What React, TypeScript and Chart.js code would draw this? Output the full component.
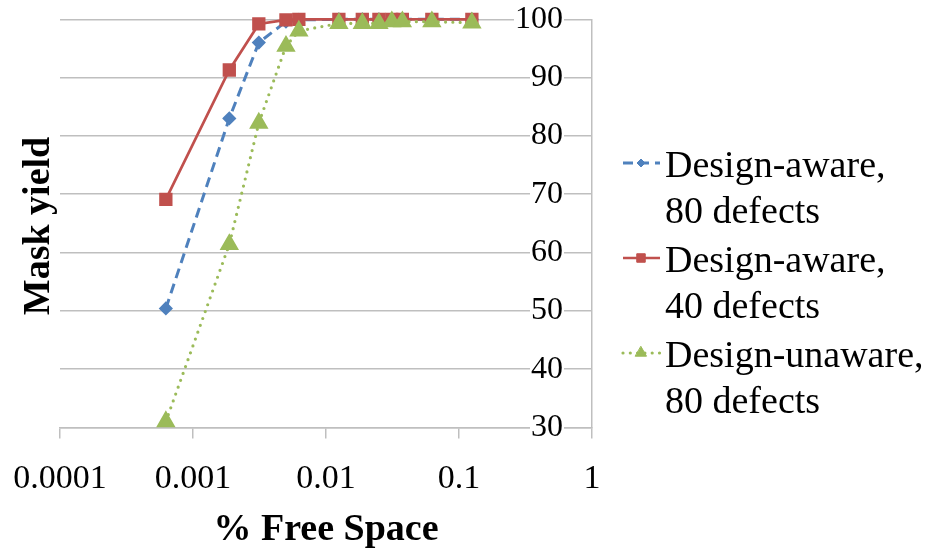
import React, { useEffect, useRef } from 'react';
import { Chart, registerables } from 'chart.js';
import { drawPoint } from 'chart.js/helpers';

Chart.register(...registerables);

// ---- data ----
const freeSpace = [0.000625, 0.001875, 0.003125, 0.005, 0.00625, 0.0125, 0.01875, 0.025, 0.03125, 0.0375, 0.0625, 0.125];
const awareDefects80 = [50.4, 83.0, 96.0, 99.6, 99.9, 100, 100, 100, 100, 100, 100, 100];
const awareDefects40 = [69.1, 91.3, 99.2, 99.9, 100, 100, 100, 100, 100, 100, 100, 100];
const unawareDefects80 = [31.0, 61.4, 82.2, 95.4, 98.0, 99.3, 99.3, 99.3, 99.6, 99.6, 99.6, 99.4];

const xTickValues = [0.0001, 0.001, 0.01, 0.1, 1];
const xTickLabels = ['0.0001', '0.001', '0.01', '0.1', '1'];
const seriesLabels = [
  ['Design-aware,', '80 defects'],
  ['Design-aware,', '40 defects'],
  ['Design-unaware,', '80 defects'],
];
const xTitle = '% Free Space';
const yTitle = 'Mask yield';

const SERIF = '"Liberation Serif", "Times New Roman", serif';
const GRID = '#bfbfbf';

const toPoints = (ys: number[]) => freeSpace.map((x, i) => ({ x, y: ys[i] }));

const overlayPlugin = {
  id: 'overlay',
  afterDraw(chart: any) {
    const ctx = chart.ctx as CanvasRenderingContext2D;
    // y title
    ctx.save();
    ctx.translate(49, 226);
    ctx.rotate(-Math.PI / 2);
    ctx.font = `bold 38px ${SERIF}`;
    ctx.fillStyle = '#000';
    ctx.textAlign = 'center';
    ctx.textBaseline = 'alphabetic';
    ctx.fillText(yTitle, 0, 0);
    ctx.restore();

    // legend
    chart.data.datasets.forEach((ds: any, i: number) => {
      const base = 177 + i * 95;
      const my = base - 14;
      ctx.save();
      ctx.strokeStyle = ds.borderColor;
      ctx.lineWidth = ds.borderWidth;
      ctx.lineCap = ds.borderCapStyle || 'butt';
      ctx.setLineDash(ds.borderDash || []);
      ctx.beginPath();
      ctx.moveTo(623, my);
      ctx.lineTo(660, my);
      ctx.stroke();
      ctx.setLineDash([]);
      ctx.fillStyle = ds.pointBackgroundColor;
      ctx.strokeStyle = ds.pointBorderColor;
      ctx.lineWidth = 1;
      drawPoint(ctx, { pointStyle: ds.pointStyle, rotation: 0, radius: ds.pointRadius * 0.8, borderWidth: 1 }, 641, my);
      ctx.fillStyle = '#000';
      ctx.font = `38px ${SERIF}`;
      ctx.textAlign = 'left';
      ctx.textBaseline = 'alphabetic';
      seriesLabels[i].forEach((t, j) => ctx.fillText(t, 665, base + j * 46));
      ctx.restore();
    });
  },
};

export default function App() {
  const ref = useRef<HTMLCanvasElement | null>(null);
  useEffect(() => {
    if (!ref.current) return;
    const chart = new Chart(ref.current, {
      type: 'scatter',
      data: {
        datasets: [
          {
            label: seriesLabels[0].join(' '),
            data: toPoints(awareDefects80),
            showLine: true,
            borderColor: '#4F81BD',
            borderWidth: 3,
            borderDash: [10, 6],
            pointStyle: 'rectRot',
            pointRadius: 5,
            pointBackgroundColor: '#4F81BD',
            pointBorderColor: '#4F81BD',
            order: 3,
            clip: false,
          },
          {
            label: seriesLabels[1].join(' '),
            data: toPoints(awareDefects40),
            showLine: true,
            borderColor: '#C0504D',
            borderWidth: 2.7,
            pointStyle: 'rect',
            pointRadius: 7.5,
            pointBackgroundColor: '#C0504D',
            pointBorderColor: '#C0504D',
            order: 2,
            clip: false,
          },
          {
            label: seriesLabels[2].join(' '),
            data: toPoints(unawareDefects80),
            showLine: true,
            borderColor: '#9BBB59',
            borderWidth: 3.2,
            borderDash: [0, 7.3],
            borderCapStyle: 'round',
            pointStyle: 'triangle',
            pointRadius: 8,
            pointBackgroundColor: '#9BBB59',
            pointBorderColor: '#9BBB59',
            order: 1,
            clip: false,
          },
        ] as any,
      },
      options: {
        responsive: false,
        animation: false,
        events: [],
        layout: { padding: { left: 60, top: 19.3, right: 0, bottom: 0 } },
        plugins: { legend: { display: false }, tooltip: { enabled: false } },
        scales: {
          x: {
            type: 'logarithmic',
            position: 'bottom',
            min: 0.0001,
            max: 1,
            afterBuildTicks: (s: any) => {
              s.ticks = xTickValues.map((v) => ({ value: v }));
            },
            afterFit: (s: any) => {
              s.height = 554 - 427.4;
              s.paddingLeft = 0;
              s.paddingRight = 0;
            },
            ticks: {
              autoSkip: false,
              maxRotation: 0,
              padding: 20,
              color: '#000',
              font: { family: SERIF, size: 34 },
              callback: (v: any) => {
                const i = xTickValues.findIndex((t) => Math.abs(t - Number(v)) / t < 1e-6);
                return i >= 0 ? xTickLabels[i] : '';
              },
            },
            grid: { drawOnChartArea: false, drawTicks: true, tickLength: 11, color: GRID, lineWidth: 1.5 },
            border: { color: GRID, width: 1.5 },
            title: {
              display: true,
              text: xTitle,
              color: '#000',
              font: { family: SERIF, size: 38, weight: 'bold' },
              padding: { top: 0, bottom: 1 },
            },
          },
          y: {
            type: 'linear',
            position: 'right',
            min: 30,
            max: 100,
            afterFit: (s: any) => {
              s.width = 934 - 592;
              s.paddingTop = 0;
              s.paddingBottom = 0;
            },
            ticks: {
              stepSize: 10,
              mirror: true,
              padding: -29,
              color: '#000',
              font: { family: SERIF, size: 32 },
              showLabelBackdrop: true,
              backdropColor: '#ffffff',
              backdropPadding: { x: 1, y: 0 },
            },
            grid: { color: GRID, lineWidth: 1.5, drawTicks: false },
            border: { color: GRID, width: 1.5 },
          },
        },
      } as any,
      plugins: [overlayPlugin],
    });
    return () => chart.destroy();
  }, []);

  return (
    <div style={{ position: 'fixed', left: 0, top: 0, width: 934, height: 554, background: '#fff' }}>
      <canvas ref={ref} width={934} height={554} style={{ display: 'block' }} />
    </div>
  );
}
